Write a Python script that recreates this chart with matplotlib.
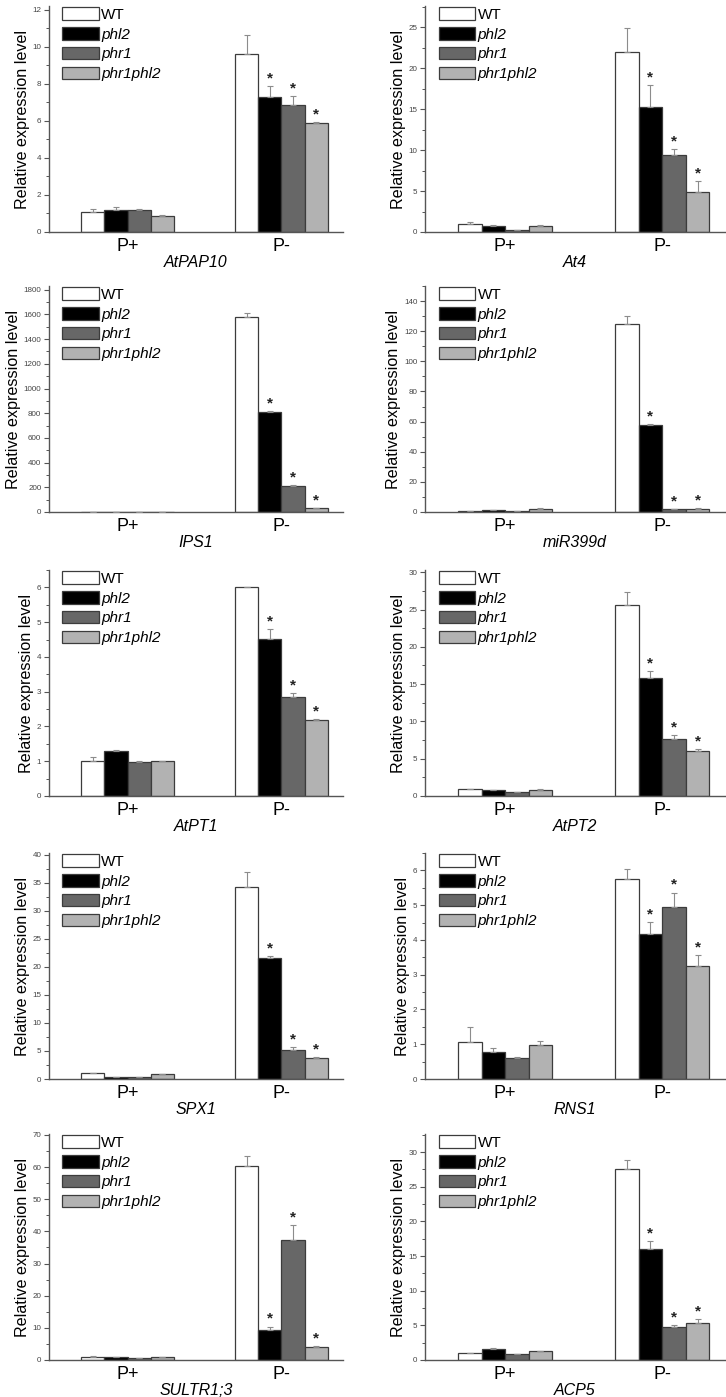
import matplotlib.pyplot as plt
from matplotlib.ticker import MultipleLocator
import numpy as np

plt.rcParams['font.family'] = ['Liberation Sans', 'DejaVu Sans']

genotypes = ['WT', 'phl2', 'phr1', 'phr1phl2']
conditions = ['P+', 'P-']
bar_colors = ['white', 'black', '#676767', '#b2b2b2']

# rows: P+, P- ; columns follow genotypes
pap10_mean = [[1.10, 1.19, 1.19, 0.87], [9.61, 7.30, 6.84, 5.90]]
pap10_err = [[0.12, 0.14, 0.03, 0.05], [1.03, 0.57, 0.48, 0.04]]

at4_mean = [[1.01, 0.77, 0.20, 0.77], [22.04, 15.28, 9.44, 4.94]]
at4_err = [[0.17, 0.04, 0.0, 0.08], [2.86, 2.62, 0.66, 1.30]]

ips1_mean = [[1.0, 0.9, 0.3, 0.8], [1577, 808, 210, 29]]
ips1_err = [[0.1, 0.1, 0.0, 0.1], [37, 8, 8, 3]]

mir399d_mean = [[0.7, 1.3, 0.7, 2.0], [125.0, 57.8, 1.8, 2.2]]
mir399d_err = [[0.1, 0.3, 0.1, 0.7], [5.0, 0.7, 0.2, 0.3]]

pt1_mean = [[1.01, 1.29, 0.99, 1.00], [6.00, 4.51, 2.84, 2.20]]
pt1_err = [[0.10, 0.02, 0.01, 0.01], [0.0, 0.28, 0.13, 0.01]]

pt2_mean = [[0.93, 0.80, 0.58, 0.84], [25.65, 15.85, 7.59, 6.08]]
pt2_err = [[0.03, 0.03, 0.02, 0.09], [1.65, 0.85, 0.58, 0.22]]

spx1_mean = [[1.00, 0.35, 0.35, 0.89], [34.2, 21.57, 5.14, 3.66]]
spx1_err = [[0.06, 0.02, 0.02, 0.05], [2.7, 0.33, 0.59, 0.30]]

rns1_mean = [[1.07, 0.79, 0.61, 0.97], [5.76, 4.17, 4.95, 3.25]]
rns1_err = [[0.43, 0.11, 0.03, 0.13], [0.29, 0.35, 0.41, 0.32]]

sultr_mean = [[1.04, 0.94, 0.52, 0.83], [60.3, 9.36, 37.2, 4.16]]
sultr_err = [[0.10, 0.05, 0.03, 0.05], [3.1, 1.04, 4.8, 0.10]]

acp5_mean = [[1.00, 1.63, 0.86, 1.30], [27.5, 16.0, 4.80, 5.28]]
acp5_err = [[0.03, 0.10, 0.03, 0.05], [1.4, 1.2, 0.29, 0.58]]

# significant vs WT under P- (phl2, phr1, phr1phl2)
sig_bars = [1, 2, 3]

# gene, means, errors, y top, major tick step
panels = [
    ('AtPAP10', pap10_mean, pap10_err, 12.2, 2),
    ('At4', at4_mean, at4_err, 27.6, 5),
    ('IPS1', ips1_mean, ips1_err, 1830, 200),
    ('miR399d', mir399d_mean, mir399d_err, 150, 20),
    ('AtPT1', pt1_mean, pt1_err, 6.5, 1),
    ('AtPT2', pt2_mean, pt2_err, 30.3, 5),
    ('SPX1', spx1_mean, spx1_err, 40.3, 5),
    ('RNS1', rns1_mean, rns1_err, 6.5, 1),
    ('SULTR1;3', sultr_mean, sultr_err, 70.3, 10),
    ('ACP5', acp5_mean, acp5_err, 32.6, 5),
]

W, H = 726, 1397
fig = plt.figure(figsize=(W / 100, H / 100), dpi=100)

row_bottoms = [232, 512, 796, 1079, 1360]
col_edges = [(49, 343), (425, 725)]
ax_h = 226
width = 0.15
x = np.arange(2)

for i, (gene, mean, err, ytop, step) in enumerate(panels):
    row, col = divmod(i, 2)
    left, right = col_edges[col]
    bottom = row_bottoms[row]
    ax = fig.add_axes([left / W, 1 - bottom / H, (right - left) / W, ax_h / H])
    mean = np.array(mean)
    err = np.array(err)

    for j, g in enumerate(genotypes):
        pos = x + (j - 1.5) * width
        ax.bar(pos, mean[:, j], width, color=bar_colors[j], edgecolor='#3c3c3c',
               linewidth=0.9, label=g, zorder=2)
        ax.errorbar(pos, mean[:, j], yerr=[np.zeros(2), err[:, j]], fmt='none',
                    ecolor='#8c8c8c', elinewidth=0.8, capsize=2.5, capthick=0.8, zorder=3)

    for j in sig_bars:
        top = mean[1, j] + err[1, j]
        ax.annotate('*', (1 + (j - 1.5) * width, top), xytext=(0, 0.5),
                    textcoords='offset points', ha='center', va='bottom',
                    fontsize=11, fontweight='bold', color='#222222')

    ax.set_xlim(-0.51, 1.40)
    ax.set_ylim(0, ytop)
    ax.yaxis.set_major_locator(MultipleLocator(step))
    ax.yaxis.set_minor_locator(MultipleLocator(step / 2))
    ax.set_xticks(x, conditions)
    ax.tick_params(axis='x', length=0, labelsize=13, pad=4)
    ax.tick_params(axis='y', which='major', length=3.5, width=0.8, labelsize=5.8,
                   labelcolor='#444444', color='#555555', pad=2)
    ax.tick_params(axis='y', which='minor', length=2, width=0.7, color='#555555')
    for s in ['top', 'right']:
        ax.spines[s].set_visible(False)
    for s in ['left', 'bottom']:
        ax.spines[s].set_color('#555555')
        ax.spines[s].set_linewidth(1.0)

    ax.set_ylabel('Relative expression level', fontsize=11.6, labelpad=2)
    ax.set_xlabel(gene, fontstyle='italic', fontsize=11.5, labelpad=0)

    leg = ax.legend(loc='upper left', bbox_to_anchor=(0.045, 0.995), frameon=False,
                    fontsize=11, handlelength=2.4, handleheight=0.9,
                    labelspacing=0.34, handletextpad=0.15, borderpad=0, borderaxespad=0)
    for t in leg.get_texts()[1:]:
        t.set_fontstyle('italic')

fig.savefig('out.png', dpi=100)
